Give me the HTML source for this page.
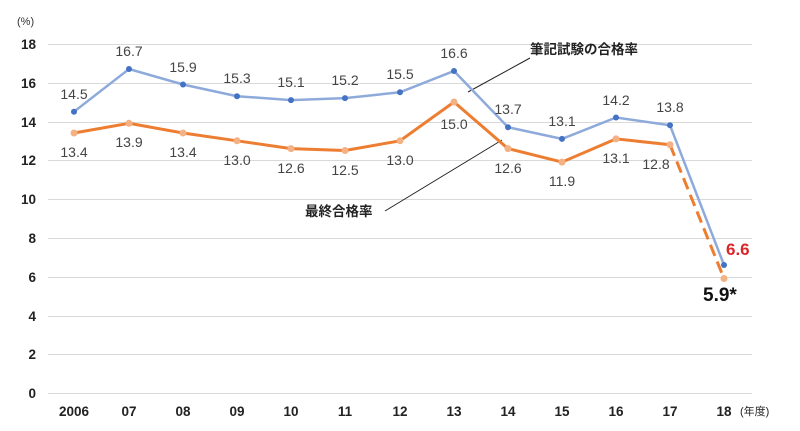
<!DOCTYPE html>
<html><head><meta charset="utf-8"><style>
body{margin:0;background:#fff}
text{font-family:"Liberation Sans","Noto Sans CJK JP",sans-serif}
</style></head><body>
<svg width="800" height="426" xmlns="http://www.w3.org/2000/svg">
<g stroke="#d9d9d9" stroke-width="1">
<line x1="48" x2="752" y1="44.5" y2="44.5"/><line x1="48" x2="752" y1="83.5" y2="83.5"/>
<line x1="48" x2="752" y1="122.5" y2="122.5"/><line x1="48" x2="752" y1="160.5" y2="160.5"/>
<line x1="48" x2="752" y1="199.5" y2="199.5"/><line x1="48" x2="752" y1="238.5" y2="238.5"/>
<line x1="48" x2="752" y1="277.5" y2="277.5"/><line x1="48" x2="752" y1="316.5" y2="316.5"/>
<line x1="48" x2="752" y1="354.5" y2="354.5"/><line x1="48" x2="752" y1="393.5" y2="393.5"/>
</g>
<text x="17" y="25" font-size="11" fill="#333">(%)</text>
<g font-size="13.5" font-weight="bold" fill="#222" text-anchor="end">
<text x="36" y="49">18</text><text x="36" y="88">16</text><text x="36" y="127">14</text>
<text x="36" y="165">12</text><text x="36" y="204">10</text><text x="36" y="243">8</text>
<text x="36" y="282">6</text><text x="36" y="321">4</text><text x="36" y="359">2</text><text x="36" y="398">0</text>
</g>
<g font-size="13.5" font-weight="bold" fill="#222" text-anchor="middle">
<text x="74" y="416">2006</text><text x="129" y="416">07</text><text x="183" y="416">08</text>
<text x="237" y="416">09</text><text x="291" y="416">10</text><text x="345" y="416">11</text>
<text x="400" y="416">12</text><text x="454" y="416">13</text><text x="508" y="416">14</text>
<text x="562" y="416">15</text><text x="616" y="416">16</text><text x="670" y="416">17</text>
<text x="724" y="416">18</text>
</g>
<text x="740" y="415" font-size="11" fill="#222">(年度)</text>
<line x1="530" y1="58" x2="468" y2="92" stroke="#222" stroke-width="1"/>
<line x1="385" y1="211" x2="502" y2="140" stroke="#222" stroke-width="1"/>
<text x="530" y="54" font-size="13.5" font-weight="bold" fill="#222">筆記試験の合格率</text>
<text x="305" y="216" font-size="13.5" font-weight="bold" fill="#222">最終合格率</text>
<polyline fill="none" stroke="#8eaadb" stroke-width="2.5" points="74,111.7 129,69 183,84.5 237,96.2 291,100.1 345,98.1 400,92.3 454,71 508,127.2 562,138.9 616,117.5 670,125.3 724,265"/>
<polyline fill="none" stroke="#ed7d31" stroke-width="3" points="74,133 129,123.3 183,133 237,140.8 291,148.6 345,150.5 400,140.8 454,102 508,148.6 562,162.1 616,138.9 670,144.7"/>
<line x1="670" y1="144.7" x2="724" y2="278.5" stroke="#ed7d31" stroke-width="3" stroke-dasharray="12,6"/>
<g fill="#4472c4">
<circle cx="74" cy="111.7" r="3"/><circle cx="129" cy="69" r="3"/><circle cx="183" cy="84.5" r="3"/><circle cx="237" cy="96.2" r="3"/><circle cx="291" cy="100.1" r="3"/><circle cx="345" cy="98.1" r="3"/><circle cx="400" cy="92.3" r="3"/><circle cx="454" cy="71" r="3"/><circle cx="508" cy="127.2" r="3"/><circle cx="562" cy="138.9" r="3"/><circle cx="616" cy="117.5" r="3"/><circle cx="670" cy="125.3" r="3"/><circle cx="724" cy="265" r="3"/>
</g>
<g fill="#f4b183">
<circle cx="74" cy="133" r="3.5"/><circle cx="129" cy="123.3" r="3.5"/><circle cx="183" cy="133" r="3.5"/><circle cx="237" cy="140.8" r="3.5"/><circle cx="291" cy="148.6" r="3.5"/><circle cx="345" cy="150.5" r="3.5"/><circle cx="400" cy="140.8" r="3.5"/><circle cx="454" cy="102" r="3.5"/><circle cx="508" cy="148.6" r="3.5"/><circle cx="562" cy="162.1" r="3.5"/><circle cx="616" cy="138.9" r="3.5"/><circle cx="670" cy="144.7" r="3.5"/><circle cx="724" cy="278.5" r="3.5"/>
</g>
<g font-size="14" fill="#444" text-anchor="middle">
<text x="74" y="99">14.5</text><text x="129" y="56">16.7</text><text x="183" y="72">15.9</text>
<text x="237" y="83">15.3</text><text x="291" y="87">15.1</text><text x="345" y="85">15.2</text>
<text x="400" y="79">15.5</text><text x="454" y="58">16.6</text><text x="508" y="114">13.7</text>
<text x="562" y="126">13.1</text><text x="616" y="105">14.2</text><text x="670" y="112">13.8</text>
<text x="74" y="157">13.4</text><text x="129" y="147">13.9</text><text x="183" y="157">13.4</text>
<text x="237" y="165">13.0</text><text x="291" y="173">12.6</text><text x="345" y="175">12.5</text>
<text x="400" y="165">13.0</text><text x="454" y="129">15.0</text><text x="508" y="173">12.6</text>
<text x="562" y="186">11.9</text><text x="616" y="163">13.1</text><text x="656" y="169">12.8</text>
</g>
<text x="726" y="255" font-size="17" font-weight="bold" fill="#d9262a">6.6</text>
<text x="703" y="301" font-size="19" font-weight="bold" fill="#111">5.9*</text>
</svg>
</body></html>
